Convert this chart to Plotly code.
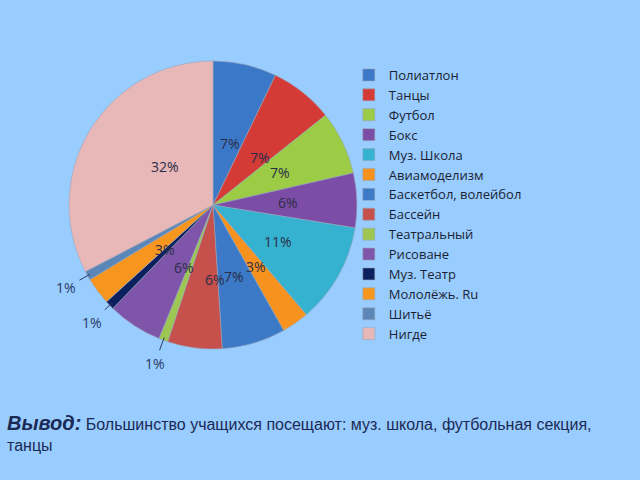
import math
import plotly.graph_objects as go

labels = ["Полиатлон", "Танцы", "Футбол", "Бокс", "Муз. Школа", "Авиамоделизм",
          "Баскетбол, волейбол", "Бассейн", "Театральный", "Рисоване", "Муз. Театр",
          "Мололёжь. Ru", "Шитьё", "Нигде"]
values = [7, 7, 7, 6, 11, 3, 7, 6, 1, 6, 1, 3, 1, 32]
colors = ["#3B78C8", "#D43A36", "#9CCB45", "#7B4DA6", "#35B2D0", "#F7921E",
          "#3C79C7", "#C5504C", "#9DC652", "#7E55A8", "#0C1F5E", "#F7961F",
          "#5B86B8", "#E8B7B7"]
outside = [False] * 8 + [True, False, True, False, True, False]

W, H = 640, 480
CX, CY, R = 213, 205, 144  # pie geometry in pixels

fig = go.Figure()
fig.add_trace(go.Pie(
    labels=labels, values=values, sort=False, direction="clockwise", rotation=0,
    marker=dict(colors=colors, line=dict(color="#9aa6b8", width=0.6)),
    textinfo="none",
    domain=dict(x=[(CX - R) / W, (CX + R) / W], y=[1 - (CY + R) / H, 1 - (CY - R) / H]),
    hoverinfo="label+percent",
))

annotations = []
total = sum(values)
cum = 0
for v, out in zip(values, outside):
    th = (cum + v / 2) / total * 2 * math.pi
    cum += v
    sx, sy = math.sin(th), math.cos(th)
    if not out:
        f = 0.52
        annotations.append(dict(
            x=(CX + f * R * sx) / W, y=1 - (CY - f * R * sy) / H,
            xref="paper", yref="paper", showarrow=False, text=f"{v}%",
            font=dict(family="Open Sans, sans-serif", size=14, color="#2b2d48"),
        ))
    else:
        ex, ey = CX + 0.98 * R * sx, CY - 0.98 * R * sy
        lx, ly = CX + 1.17 * R * sx, CY - 1.17 * R * sy
        annotations.append(dict(
            x=ex / W, y=1 - ey / H, xref="paper", yref="paper",
            ax=lx - ex, ay=ly - ey, showarrow=True, arrowhead=0, arrowwidth=1,
            arrowcolor="#2a3a66", standoff=0, startstandoff=2,
            text=f"{v}%",
            font=dict(family="Open Sans, sans-serif", size=14, color="#2a3a66"),
        ))

annotations.append(dict(
    x=0.008, y=0.145, xref="paper", yref="paper", xanchor="left", yanchor="top",
    align="left", showarrow=False,
    text=("<span style='font-size:20px'><b><i>Вывод:</i></b></span> "
          "Большинство учащихся посещают: муз. школа, футбольная секция,<br>танцы"),
    font=dict(family="Liberation Sans, Arial, sans-serif", size=16, color="#1b2a55"),
))

fig.update_layout(
    width=W, height=H,
    paper_bgcolor="#99CCFF", plot_bgcolor="#99CCFF",
    margin=dict(l=0, r=0, t=0, b=0),
    showlegend=True,
    legend=dict(x=0.545, y=0.875, xanchor="left", yanchor="top",
                font=dict(family="Open Sans, sans-serif", size=13, color="#1a1f33"),
                bgcolor="rgba(0,0,0,0)", traceorder="normal", itemwidth=30),
    annotations=annotations,
)

fig.write_html("out.html")
